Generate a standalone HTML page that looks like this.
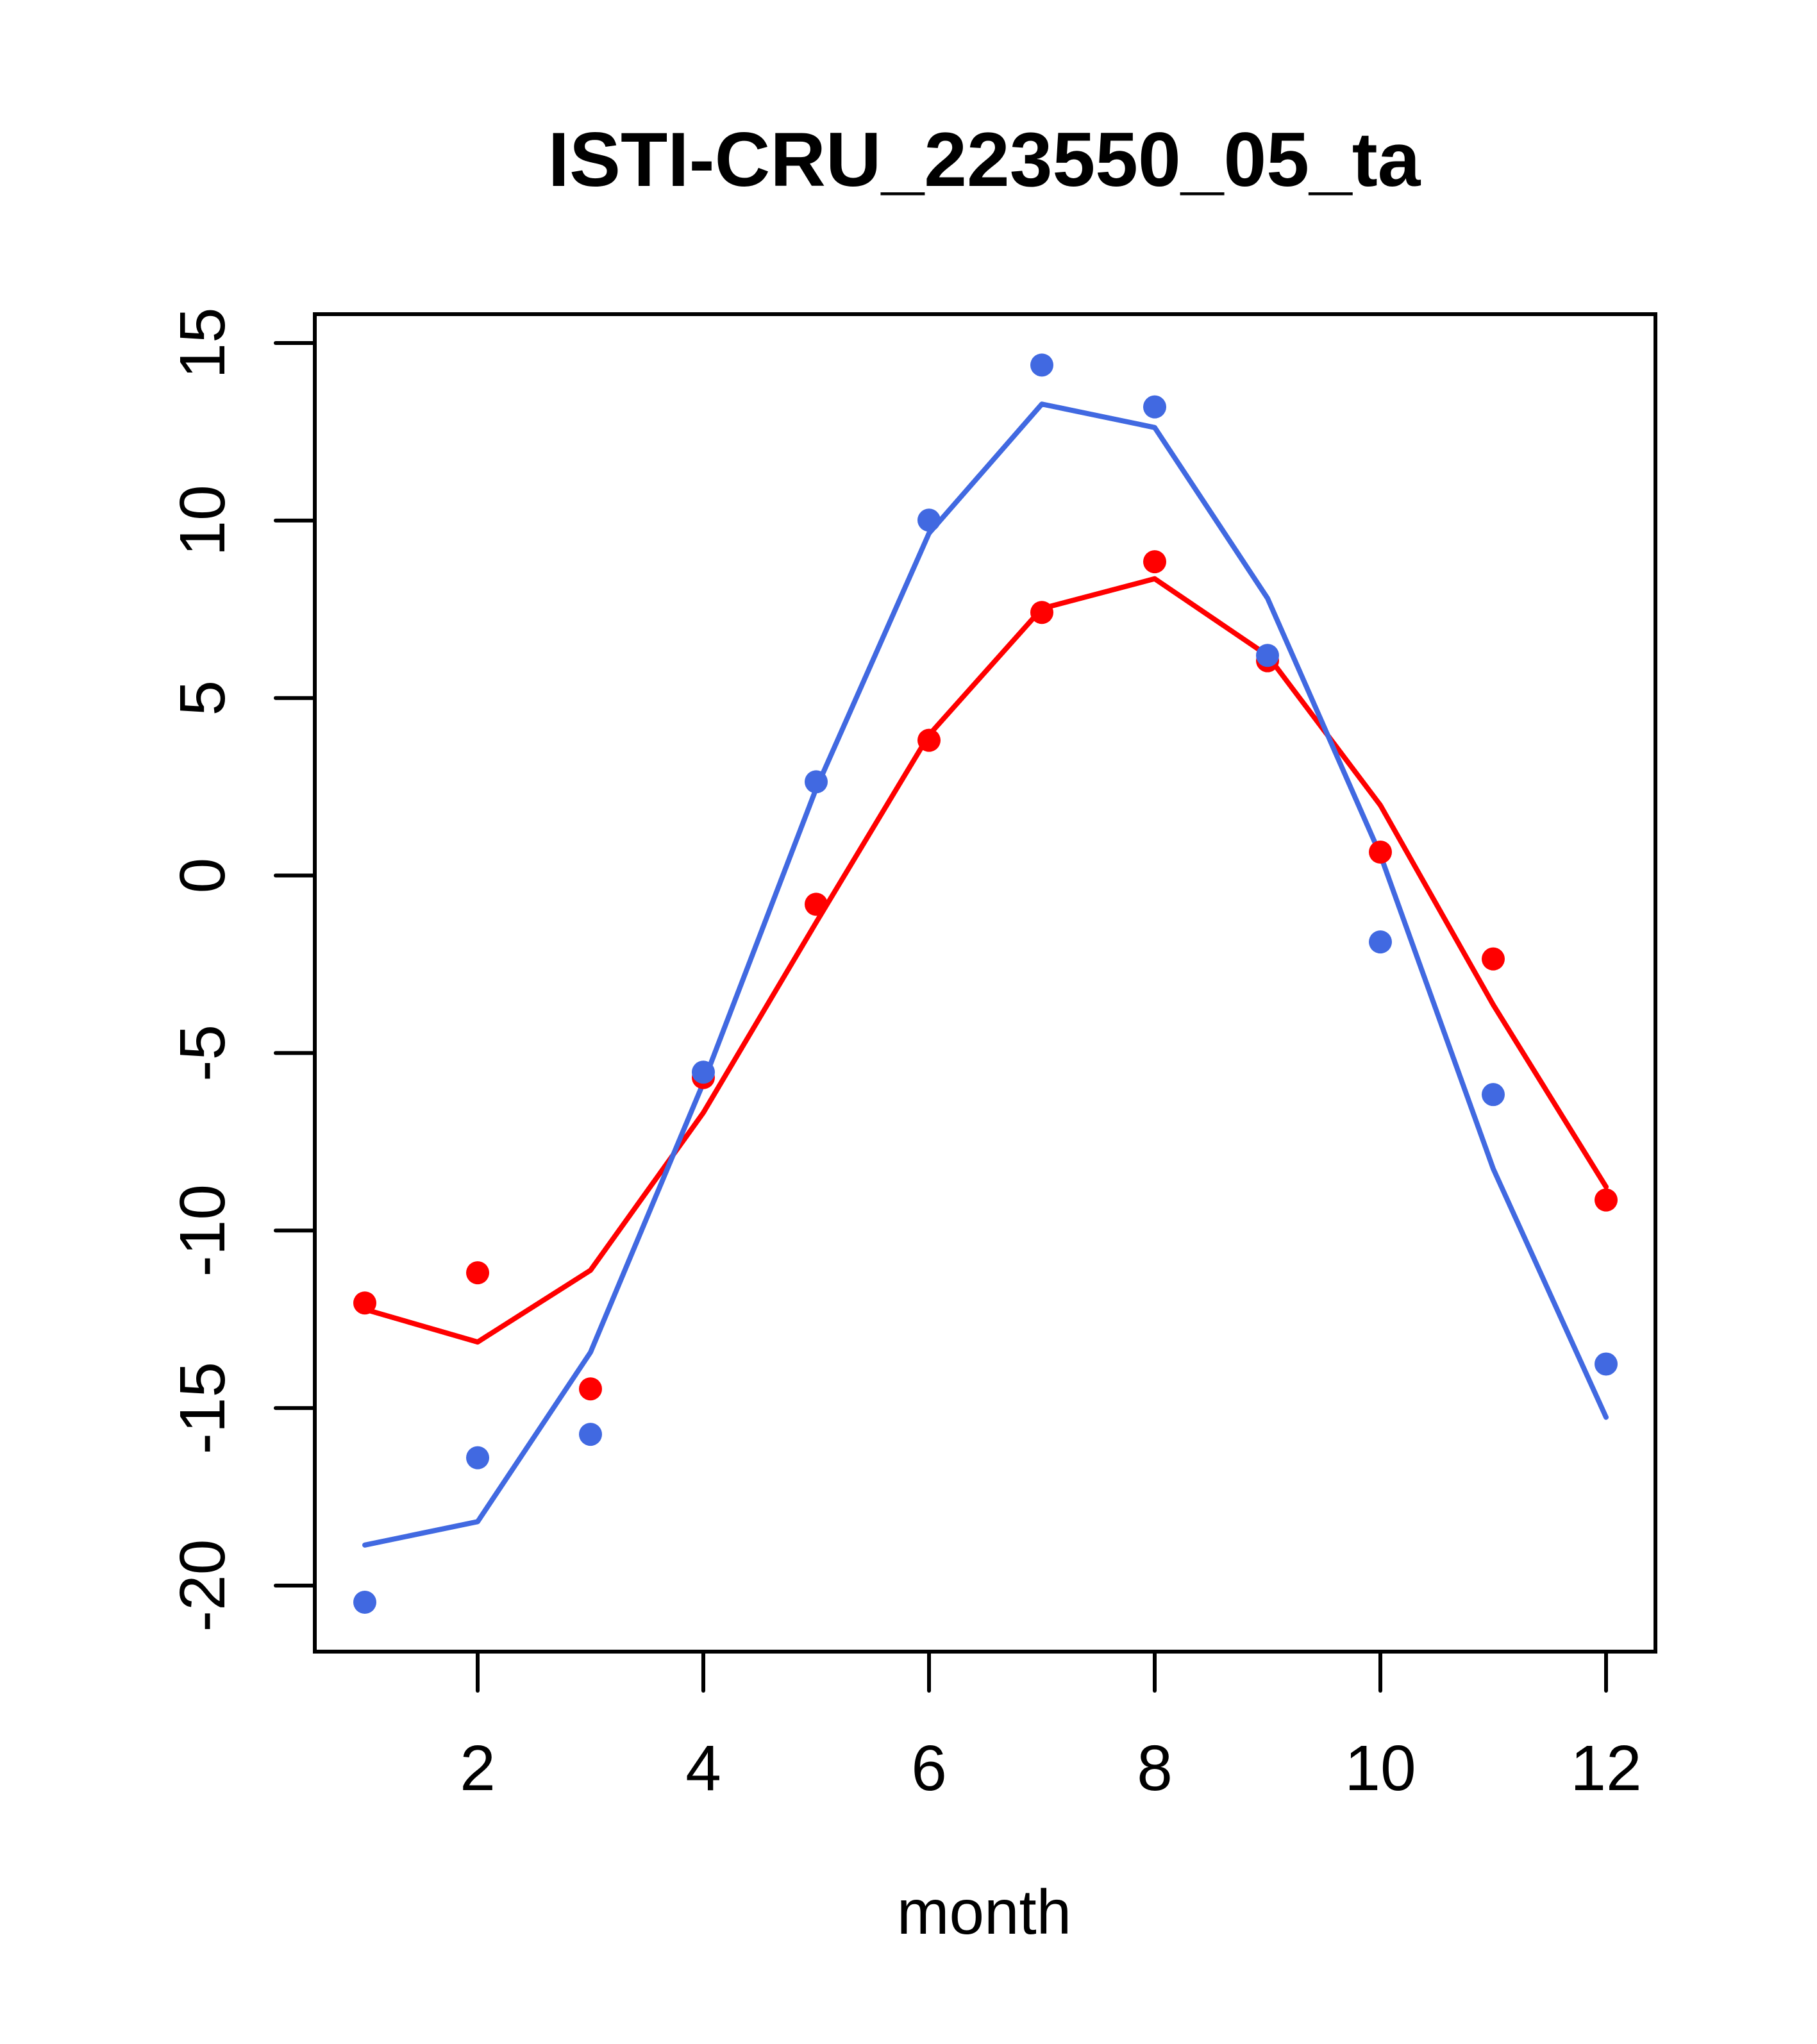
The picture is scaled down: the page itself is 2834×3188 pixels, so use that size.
<!DOCTYPE html>
<html><head><meta charset="utf-8"><style>
html,body{margin:0;padding:0;background:#fff}
svg{display:block}
text{font-family:"Liberation Sans",Arial,sans-serif;fill:#000}
</style></head><body>
<svg id="chart" width="2834" height="3188" viewBox="0 0 2834 3188" xmlns="http://www.w3.org/2000/svg">
<rect width="2834" height="3188" fill="#fff"/>
<text x="1535" y="290" font-size="120" font-weight="bold" text-anchor="middle">ISTI-CRU_223550_05_ta</text>
<text x="1535" y="3016" font-size="98" text-anchor="middle">month</text>
<g id="axes"></g>
<g id="marks"></g>
<rect x="491" y="490" width="2091" height="2086" fill="none" stroke="#000" stroke-width="6"/>
</svg>
<script>
const months = [1,2,3,4,5,6,7,8,9,10,11,12];
const redPoints = [-12.04,-11.19,-14.46,-5.69,-0.81,3.81,7.41,8.84,6.05,0.66,-2.35,-9.14];
const redLine = [-12.22,-13.14,-11.12,-6.68,-1.32,3.96,7.52,8.36,6.2,1.98,-3.64,-8.77];
const bluePoints = [-20.47,-16.4,-15.74,-5.54,2.64,10.01,14.38,13.2,6.2,-1.87,-6.17,-13.76];
const blueLine = [-18.86,-18.2,-13.43,-5.84,2.45,9.64,13.28,12.62,7.81,0.58,-8.26,-15.26];
const xTicks = [2,4,6,8,10,12];
const yTicks = [-20,-15,-10,-5,0,5,10,15];

const NS = "http://www.w3.org/2000/svg";
function xs(v){ return 569 + (v-1)*176; }
function ys(v){ return 535 + (15-v)*55.37; }
function mk(tag, attrs, parent){
  const e = document.createElementNS(NS, tag);
  for (const k in attrs) e.setAttribute(k, attrs[k]);
  parent.appendChild(e); return e;
}
const axes = document.getElementById('axes');
const marks = document.getElementById('marks');

xTicks.forEach(t=>{
  const l = mk('line',{x1:xs(t),x2:xs(t),y1:2576,y2:2637,stroke:'#000','stroke-width':6,'stroke-linecap':'round'},axes);
  
  
  const tx = mk('text',{x:xs(t),y:2792,'font-size':100,'text-anchor':'middle'},axes);
  tx.textContent = t;
  
  
});
yTicks.forEach(t=>{
  const l = mk('line',{x1:430,x2:491,y1:ys(t),y2:ys(t),stroke:'#000','stroke-width':6,'stroke-linecap':'round'},axes);
  
  
  const tx = mk('text',{x:0,y:0,'font-size':100,'text-anchor':'middle',transform:'translate(350,'+ys(t)+') rotate(-90)'},axes);
  tx.textContent = t;
  
  
});

function line(vals, color, name){
  const p = mk('polyline',{points:vals.map((v,i)=>xs(months[i])+','+ys(v)).join(' '),fill:'none',stroke:color,'stroke-width':8,'stroke-linejoin':'round','stroke-linecap':'round'},marks);
  
  
}
function pts(vals, color, name){
  vals.forEach((v,i)=>{
    const c = mk('circle',{cx:xs(months[i]),cy:ys(v),r:18,fill:color},marks);
    
    
  });
}
line(redLine,'#ff0000','red-line');
line(blueLine,'#4169e1','blue-line');
pts(redPoints,'#ff0000','red-point');
pts(bluePoints,'#4169e1','blue-point');
</script>
</body></html>
